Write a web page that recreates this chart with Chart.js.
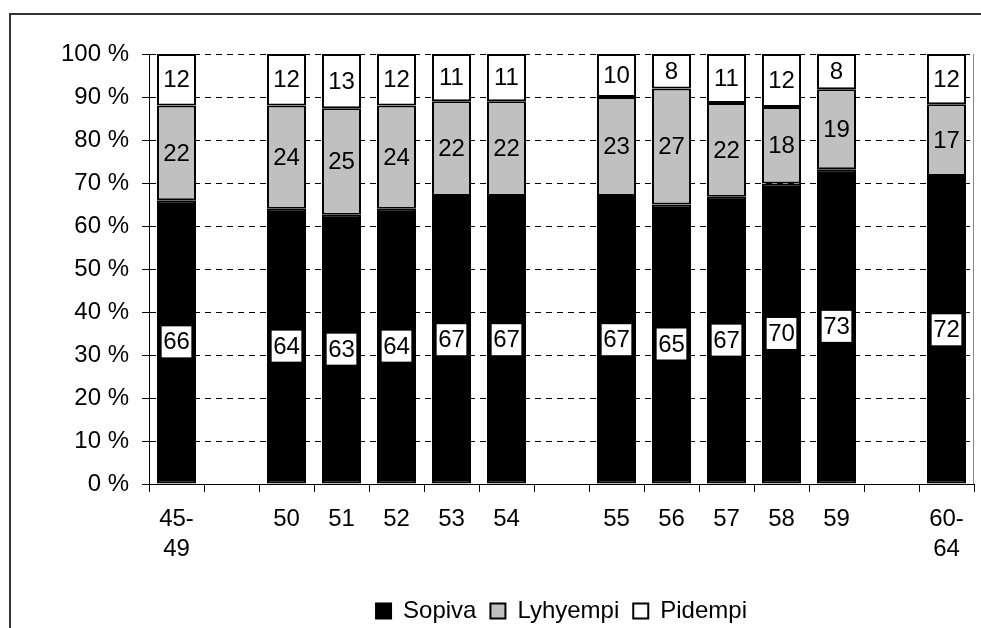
<!DOCTYPE html>
<html>
<head>
<meta charset="utf-8">
<script src="https://cdn.jsdelivr.net/npm/chart.js@4"></script>
<style>
html, body { margin: 0; padding: 0; background: #fff; overflow: hidden; }
#wrap { position: relative; width: 981px; height: 628px; }
#frame { position: absolute; left: 9px; top: 13px; width: 1200px; height: 900px; border: 2px solid #333; }
canvas { position: absolute; left: 0; top: 0; }
</style>
</head>
<body>
<div id="wrap">
  <div id="frame"></div>
  <canvas id="chart" width="981" height="628"></canvas>
</div>
<script>
// ---------- data (% of age group) ----------
const categories = [["45-", "49"], "", "50", "51", "52", "53", "54", "", "55", "56", "57", "58", "59", "", ["60-", "64"]];
const sopiva   = [66, null, 64, 62.6, 64, 67, 67, null, 67, 65, 66.8, 69.9, 73.2, null, 71.6];
const lyhyempi = [22, null, 24, 24.8, 24, 22, 22, null, 23, 27, 21.8, 17.8, 18.6, null, 16.7];
const pidempi  = [12, null, 12, 12.6, 12, 11, 11, null, 10,  8, 11.4, 12.3,  8.2, null, 11.7];
const yTicks = [0, 10, 20, 30, 40, 50, 60, 70, 80, 90, 100];

const FONT = "'Liberation Sans', Arial, sans-serif";
const FS = 24;
Chart.defaults.font.family = FONT;
Chart.defaults.font.size = FS;
Chart.defaults.color = '#000';

// value labels in the middle of each segment
const barLabels = {
    id: 'barLabels',
    afterDatasetsDraw(chart) {
        const ctx = chart.ctx;
        ctx.save();
        ctx.font = FS + 'px ' + FONT;
        ctx.textAlign = 'center';
        ctx.textBaseline = 'middle';
        chart.data.datasets.forEach((ds, di) => {
            chart.getDatasetMeta(di).data.forEach((bar, i) => {
                const v = ds.data[i];
                if (v == null) return;
                const txt = String(Math.round(v));
                const y = (bar.y + bar.base) / 2;
                if (di === 0) {
                    const w = ctx.measureText(txt).width + 3;
                    ctx.fillStyle = '#fff';
                    ctx.fillRect(bar.x - w / 2, y - 15.5, w, 31);
                }
                ctx.fillStyle = '#000';
                ctx.fillText(txt, bar.x, y + 1);
            });
        });
        ctx.restore();
    }
};

// grey right edge of the plot area
const plotEdge = {
    id: 'plotEdge',
    beforeDatasetsDraw(chart) {
        const { ctx, chartArea: a } = chart;
        ctx.save();
        ctx.strokeStyle = '#888';
        ctx.lineWidth = 1;
        ctx.beginPath();
        ctx.moveTo(a.right - 0.5, a.top);
        ctx.lineTo(a.right - 0.5, a.bottom);
        ctx.stroke();
        ctx.restore();
    }
};

const ctx = document.getElementById('chart').getContext('2d');

new Chart(ctx, {
    type: 'bar',
    data: {
        labels: categories,
        datasets: [
            { label: 'Sopiva', data: sopiva, backgroundColor: '#000000', borderColor: '#000', borderWidth: 2, borderSkipped: false },
            { label: 'Lyhyempi', data: lyhyempi, backgroundColor: '#c0c0c0', borderColor: '#000', borderWidth: 2, borderSkipped: false },
            { label: 'Pidempi', data: pidempi, backgroundColor: '#ffffff', borderColor: '#000', borderWidth: 2, borderSkipped: false }
        ]
    },
    options: {
        responsive: false,
        animation: false,
        devicePixelRatio: 1,
        barPercentage: 0.71,
        categoryPercentage: 1,
        layout: { padding: { left: 0, top: 54, right: 7, bottom: -5 } },
        plugins: {
            tooltip: { enabled: false },
            legend: {
                position: 'bottom',
                fullSize: false,
                labels: { boxWidth: 15, boxHeight: 15, padding: 14, color: '#000', font: { size: FS } }
            }
        },
        scales: {
            x: {
                stacked: true,
                grid: { drawOnChartArea: false, drawTicks: true, tickLength: 8, color: '#000', offset: true },
                border: { color: '#000', width: 1 },
                ticks: { color: '#000', font: { size: FS, lineHeight: 30 / FS }, padding: 12, maxRotation: 0, autoSkip: false },
                afterFit(scale) { scale.height = 101; }
            },
            y: {
                stacked: true,
                min: 0,
                max: 100,
                afterBuildTicks(scale) { scale.ticks = yTicks.map(v => ({ value: v })); },
                ticks: { color: '#000', font: { size: FS }, padding: 13, callback: v => v + ' %' },
                grid: { color: '#000', lineWidth: 1, tickLength: 7, tickColor: '#000' },
                border: { color: '#000', width: 1, dash: [6, 5] },
                afterFit(scale) { scale.width = 149; }
            }
        }
    },
    plugins: [plotEdge, barLabels]
});
</script>
</body>
</html>
